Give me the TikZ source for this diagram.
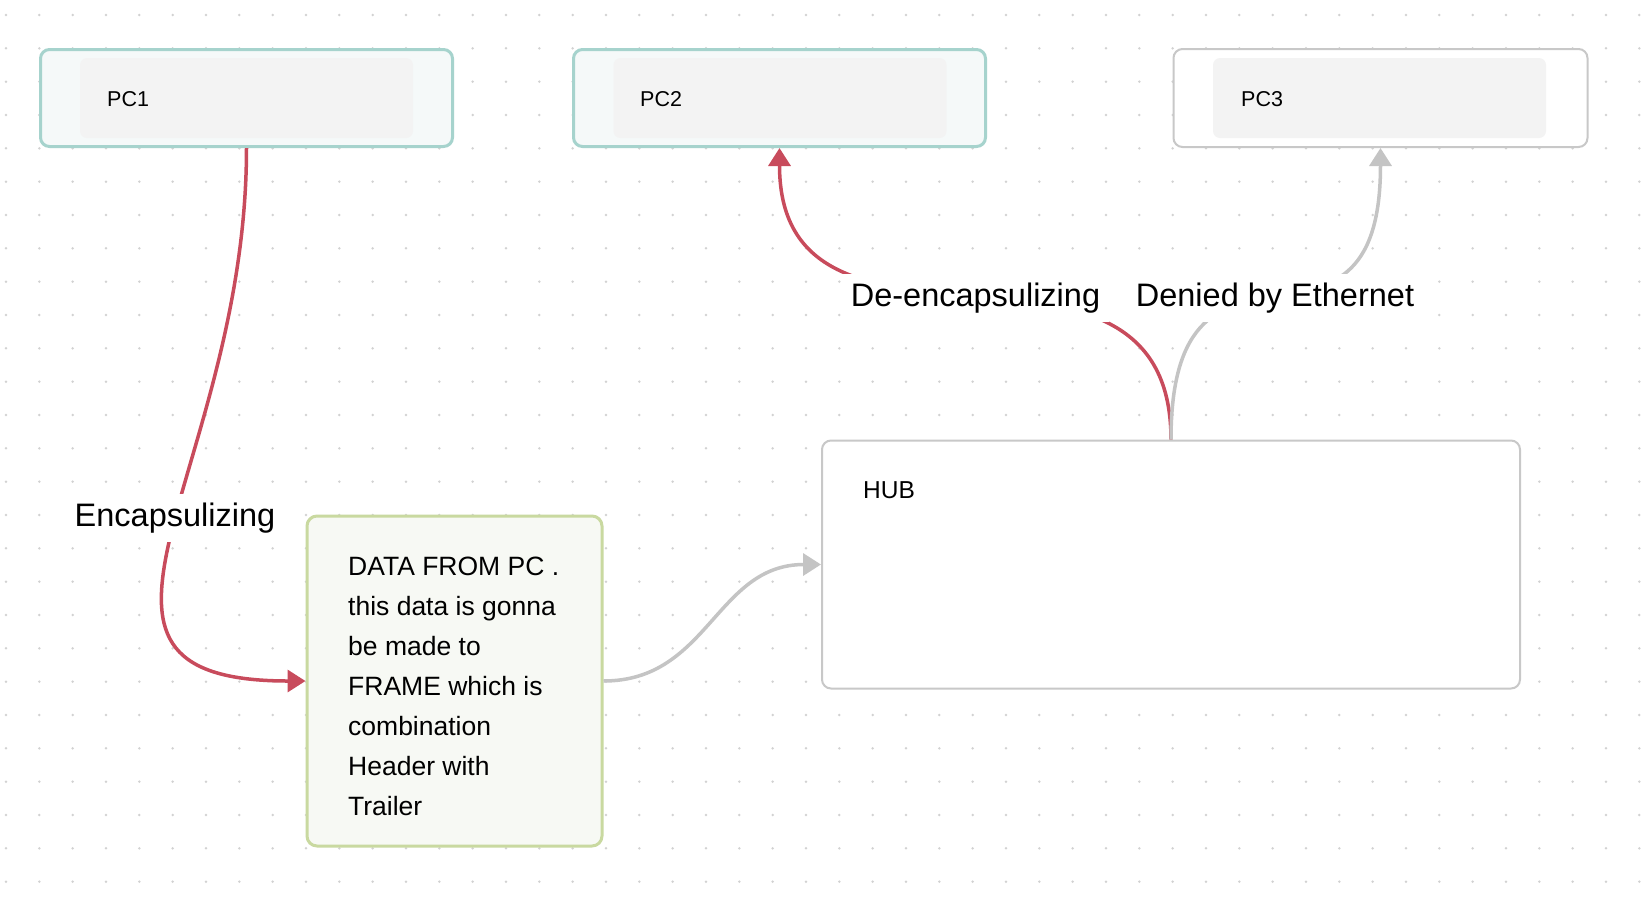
\documentclass[tikz,border=0pt]{standalone}
\usepackage{fontspec}
\setmainfont{Liberation Sans}
\usetikzlibrary{arrows.meta}
\definecolor{edgered}{HTML}{C84B5C}
\definecolor{edgegray}{HTML}{C4C4C4}
\definecolor{tealb}{HTML}{A6D3CD}
\definecolor{pcfill}{HTML}{F5F9F9}
\definecolor{innerg}{HTML}{F3F3F3}
\definecolor{greenb}{HTML}{C9D9A0}
\definecolor{greenf}{HTML}{F7F9F4}
\definecolor{boxgray}{HTML}{C8C8C8}
\definecolor{dotc}{HTML}{D2D2D2}
\begin{document}
\begin{tikzpicture}[x=1pt,y=-1pt,
  pcbox/.style={draw=tealb,fill=pcfill,line width=3pt,rounded corners=9pt,minimum width=412pt,minimum height=97pt,inner sep=0pt},
  pcwhite/.style={draw=boxgray,fill=white,line width=2pt,rounded corners=9pt,minimum width=414pt,minimum height=98pt,inner sep=0pt},
  innerbox/.style={fill=innerg,rounded corners=7pt,minimum width=333pt,minimum height=80pt,inner sep=0pt},
  pctext/.style={anchor=base west,inner sep=0pt,font=\fontsize{21.5}{25}\selectfont},
  databox/.style={draw=greenb,fill=greenf,line width=3pt,rounded corners=10pt,minimum width=295pt,minimum height=330pt,inner sep=0pt},
  datatext/.style={anchor=base west,inner sep=0pt,font=\fontsize{26.5}{32}\selectfont},
  hubbox/.style={draw=boxgray,fill=white,line width=2pt,rounded corners=9pt,minimum width=698pt,minimum height=248pt,inner sep=0pt},
  lbl/.style={fill=white,inner sep=9pt,font=\fontsize{32.5}{38}\selectfont},
  redge/.style={draw=edgered,line width=3.5pt,-{Triangle[length=18pt,width=22pt]}},
  gedge/.style={draw=edgegray,line width=3.5pt,-{Triangle[length=18pt,width=22pt]}}
]
\useasboundingbox (0,0) rectangle (1642,898);
\fill[white] (0,0) rectangle (1642,898);
\foreach \i in {0,...,49}{\foreach \j in {0,...,26}{\fill[dotc] ({6+33.333*\i},{15+33.333*\j}) circle (1.4pt);}}

% boxes
\node[pcbox] (pc1) at (246.5,98) {};
\node[innerbox] (pc1in) at (246.5,98) {};
\node[pctext] (pc1t) at (107,106) {PC1};

\node[pcbox] (pc2) at (779.5,98) {};
\node[innerbox] (pc2in) at (780,98) {};
\node[pctext] (pc2t) at (640,106) {PC2};

\node[pcwhite] (pc3) at (1380.5,98) {};
\node[innerbox] (pc3in) at (1379.5,98) {};
\node[pctext] (pc3t) at (1241,106) {PC3};

\node[databox] (data) at (454.5,681) {};
\node[hubbox] (hub) at (1171,564.5) {};
\node[anchor=base west,inner sep=0pt,font=\fontsize{24.5}{30}\selectfont] (hubt) at (863,498) {HUB};

% edges
\draw[redge] (pc1.south) .. controls +(0,325) and +(-276,0) .. (data.west);
\draw[gedge] (data.east) .. controls +(105,0) and +(-105,0) .. (hub.west);
\draw[redge] (hub.north) .. controls +(0,-250) and +(0,250) .. (pc2.south);
\draw[gedge] (hub.north) .. controls +(0,-250) and +(0,250) .. (pc3.south);

% labels
\node[lbl] (enc) at (175,518) {Encapsulizing};
\node[lbl] (deenc) at (975.5,298) {De-encapsulizing};
\node[lbl] (denied) at (1275,298) {Denied by Ethernet};

% data text
\node[datatext] (d1) at (348,575) {DATA FROM PC .};
\node[datatext] (d2) at (348,615) {this data is gonna};
\node[datatext] (d3) at (348,655) {be made to};
\node[datatext] (d4) at (348,695) {FRAME which is};
\node[datatext] (d5) at (348,735) {combination};
\node[datatext] (d6) at (348,775) {Header with};
\node[datatext] (d7) at (348,815) {Trailer};
\end{tikzpicture}
\end{document}
